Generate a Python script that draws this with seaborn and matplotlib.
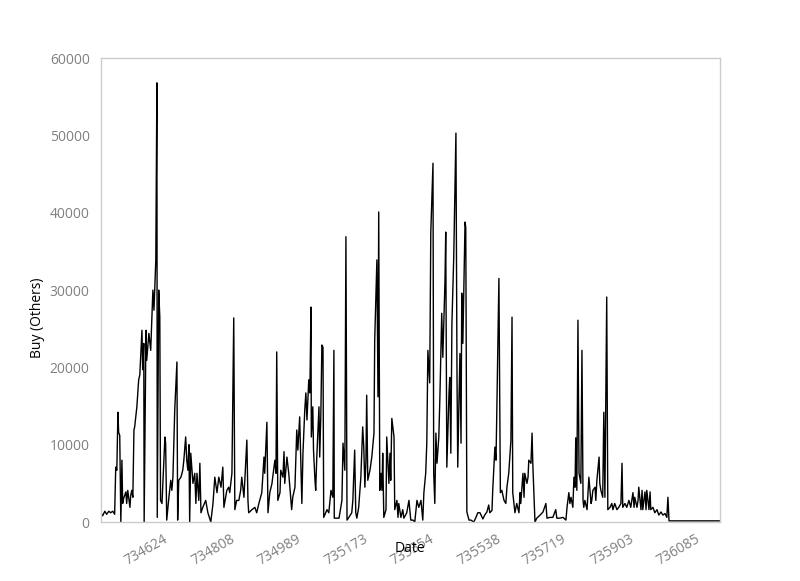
import numpy as np
import pandas as pd
import matplotlib
matplotlib.use("Agg")
import matplotlib.pyplot as plt
import seaborn as sns

# dates are kept as day offsets from the first observation (proleptic ordinal below)
start_ordinal = 734500

day = [0, 5, 11, 16, 22, 27, 33, 38, 41, 44, 47, 49, 52, 55, 58, 60, 63, 69, 71, 74,
       80, 82, 85, 88, 91, 93, 99, 104, 107, 113, 115, 118, 119, 124, 126, 132, 137, 140, 143, 146,
       151, 154, 155, 159, 162, 164, 168, 176, 178, 181, 187, 192, 195, 198, 203, 209, 211, 214, 220, 225,
       228, 233, 236, 239, 242, 244, 247, 253, 258, 261, 264, 269, 272, 275, 280, 288, 294, 302, 308, 313,
       319, 324, 330, 335, 338, 346, 351, 354, 360, 365, 368, 373, 379, 384, 387, 393, 395, 401, 404, 406,
       415, 423, 428, 434, 442, 448, 450, 456, 459, 464, 470, 472, 478, 481, 483, 486, 492, 494, 500, 503,
       505, 511, 516, 519, 524, 527, 533, 538, 541, 546, 552, 555, 560, 563, 566, 571, 574, 577, 578, 582,
       584, 588, 590, 593, 599, 601, 604, 607, 610, 612, 621, 626, 632, 637, 640, 641, 648, 654, 662, 665,
       670, 673, 676, 681, 689, 692, 697, 700, 703, 708, 714, 719, 722, 725, 728, 730, 733, 739, 744, 750,
       752, 758, 761, 763, 766, 769, 772, 774, 777, 783, 785, 791, 794, 796, 799, 805, 807, 813, 816, 818,
       824, 829, 832, 840, 846, 851, 857, 862, 868, 873, 879, 884, 887, 892, 895, 898, 903, 906, 912, 914,
       917, 920, 923, 928, 931, 936, 939, 945, 947, 950, 956, 958, 961, 964, 969, 975, 978, 980, 983, 986,
       989, 991, 994, 1000, 1002, 1005, 1011, 1016, 1024, 1030, 1035, 1041, 1049, 1054, 1060, 1065, 1068, 1074, 1076, 1082,
       1085, 1087, 1093, 1097, 1101, 1107, 1112, 1115, 1120, 1126, 1129, 1131, 1137, 1142, 1148, 1151, 1153, 1159, 1162, 1164,
       1170, 1173, 1175, 1181, 1184, 1186, 1192, 1197, 1206, 1214, 1222, 1225, 1233, 1241, 1249, 1252, 1260, 1269, 1277, 1280,
       1285, 1288, 1291, 1296, 1299, 1302, 1304, 1307, 1310, 1313, 1318, 1321, 1324, 1326, 1329, 1335, 1337, 1340, 1346, 1348,
       1351, 1357, 1359, 1362, 1368, 1370, 1373, 1378, 1381, 1384, 1389, 1392, 1398, 1403, 1406, 1411, 1417, 1422, 1428, 1431,
       1433, 1439, 1444, 1450, 1455, 1461, 1464, 1466, 1472, 1475, 1477, 1483, 1486, 1488, 1494, 1497, 1499, 1505, 1508, 1510,
       1516, 1521, 1527, 1532, 1538, 1543, 1549, 1554, 1557, 1560, 1700]

buy_others = [1200, 800, 1400, 1000, 1400, 1200, 1400, 1000, 7100, 6700, 14200, 11600, 11200, 0, 8000, 2400, 3100, 3900, 2400, 4100,
              1900, 3400, 4100, 3200, 11900, 12300, 14900, 18400, 19000, 24800, 19700, 23100, 0, 24800, 20900, 24400, 22200, 26100, 30000, 27400,
              33900, 56800, 600, 30000, 26500, 2800, 2400, 11000, 10200, 250, 3200, 5400, 4100, 5800, 14500, 20700, 250, 5400, 5800, 6700,
              8000, 11000, 8000, 6700, 10000, 0, 8900, 5000, 6300, 2400, 6300, 2800, 7600, 1200, 1900, 2800, 1200, 0, 2400, 5800,
              3800, 5800, 4500, 7100, 1900, 4100, 4500, 3800, 6300, 26400, 1600, 2800, 2800, 4100, 5800, 3200, 5000, 10600, 2800, 1200,
              1600, 1900, 1200, 2400, 3800, 8400, 6300, 12900, 1200, 3800, 5000, 5800, 8000, 6300, 22000, 2800, 3800, 6700, 5800, 9100,
              5000, 8400, 6300, 4500, 1600, 3200, 4500, 11900, 9300, 13600, 2400, 8900, 14500, 16700, 13200, 18400, 16700, 27800, 11000, 14900,
              9300, 5400, 4100, 8400, 14900, 8400, 13600, 22900, 22600, 600, 1600, 1200, 4100, 3200, 22200, 500, 500, 500, 2800, 10200,
              6700, 36900, 250, 600, 1200, 2800, 9300, 1200, 500, 1900, 5800, 12300, 9700, 4500, 8000, 16400, 5400, 6700, 8400, 11500,
              23500, 33900, 16200, 40100, 4100, 6300, 4100, 8900, 600, 1600, 11000, 5000, 8900, 5400, 13400, 11000, 1600, 2800, 600, 2400,
              600, 1600, 500, 1200, 2800, 250, 250, 0, 2800, 1900, 2800, 250, 3800, 6300, 10200, 22200, 18000, 37500, 46400, 6300,
              2400, 11500, 7600, 11000, 16200, 27000, 21300, 31300, 37500, 7100, 16700, 18700, 8900, 25700, 34300, 50300, 18400, 7100, 14900, 21800,
              10200, 29600, 23100, 38800, 38100, 1300, 250, 250, 0, 600, 1200, 1200, 400, 900, 1300, 2200, 1200, 1500, 4100, 9700,
              8000, 13600, 31500, 3800, 4100, 2800, 2400, 4500, 6300, 10600, 26500, 3800, 1200, 2400, 1200, 3800, 2400, 6300, 3200, 6300,
              5000, 5800, 8000, 7600, 11500, 7600, 0, 500, 900, 1300, 2400, 500, 600, 600, 1600, 500, 500, 600, 250, 1900,
              3800, 2400, 3200, 1900, 5800, 4500, 10900, 4100, 26100, 6300, 5000, 22200, 2800, 1900, 2800, 1600, 3200, 5800, 2400, 2800,
              4100, 4500, 2800, 5400, 8400, 5000, 4100, 3200, 14200, 3200, 29100, 1600, 1900, 2400, 1600, 2400, 1600, 1900, 2400, 7600,
              1900, 2400, 1900, 2800, 1900, 3800, 1900, 3200, 1900, 2800, 4500, 1600, 4100, 1600, 3900, 1600, 4100, 1600, 3900, 1600,
              1900, 1200, 1600, 900, 1300, 900, 1100, 600, 3200, 150, 150]

tick_ordinals = [734624, 734808, 734989, 735173, 735354, 735538, 735719, 735903, 736085]

df = pd.DataFrame({"Date": np.array(day) + start_ordinal, "Buy (Others)": buy_others})

sns.set_style("white")
plt.rcParams['font.family'] = ['Open Sans', 'DejaVu Sans']

fig, ax = plt.subplots(figsize=(8, 5.81), dpi=100)
fig.subplots_adjust(left=0.126, right=0.9, top=0.9, bottom=0.1015)

sns.lineplot(data=df, x="Date", y="Buy (Others)", color="black", linewidth=1.0, ax=ax)

ax.set_xlim(df["Date"].min(), df["Date"].max())
ax.set_ylim(0, 60000)
ax.set_yticks(range(0, 60001, 10000))
ax.set_xticks(tick_ordinals)
ax.set_xticklabels([str(t) for t in tick_ordinals], rotation=30)

for s in ax.spines.values():
    s.set_color("#cccccc")
    s.set_linewidth(1.0)

ax.tick_params(axis="both", length=0, labelsize=10, labelcolor="#808080")
ax.tick_params(axis="x", pad=7)
ax.tick_params(axis="y", pad=8)

ax.set_xlabel("Date", fontsize=10, color="black")
ax.set_ylabel("Buy (Others)", fontsize=10, color="black")
ax.xaxis.set_label_coords(0.5, -0.04)
ax.yaxis.set_label_coords(-0.09, 0.44)

fig.savefig("out.png", dpi=100)
